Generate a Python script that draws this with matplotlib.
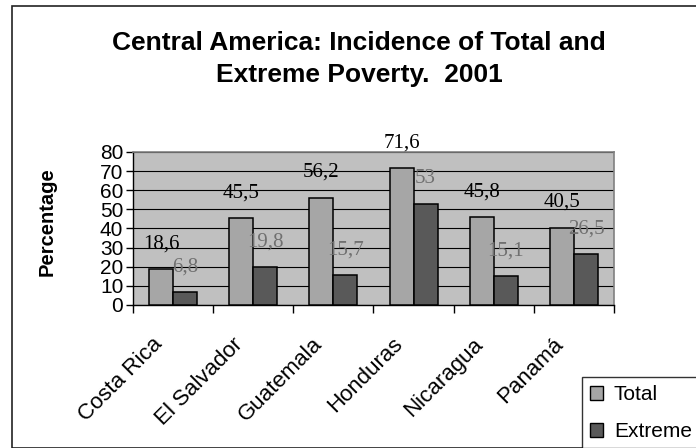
import matplotlib
matplotlib.use("Agg")
import matplotlib.pyplot as plt
import matplotlib.transforms as mtransforms
from matplotlib.patches import Patch, Rectangle

COUNTRIES = ["Costa Rica", "El Salvador", "Guatemala", "Honduras", "Nicaragua", "Panamá"]
TOTAL = [18.6, 45.5, 56.2, 71.6, 45.8, 40.5]
EXTREME = [6.8, 19.8, 15.7, 53, 15.1, 26.5]
TOTAL_LABELS = ["18,6", "45,5", "56,2", "71,6", "45,8", "40,5"]
EXTREME_LABELS = ["6,8", "19,8", "15,7", "53", "15,1", "26,5"]
SERIES = ["Total", "Extreme"]

C_TOTAL = "#a6a6a6"
C_EXTREME = "#595959"
W = 0.3

plt.rcParams["font.family"] = ["Liberation Sans", "DejaVu Sans"]

fig = plt.figure(figsize=(6.96, 4.48), dpi=100)
W_PX, H_PX = 696, 448

# outer chart frame (runs off the right and bottom edges)
fig.patches.append(Rectangle((12 / W_PX, 0), 1.0, 1 - 6 / H_PX, transform=fig.transFigure,
                             fill=False, edgecolor="#222222", linewidth=1.2, clip_on=False))

ax = fig.add_axes([133 / W_PX, 1 - 305 / H_PX, (614 - 133) / W_PX, (305 - 152) / H_PX])
ax.set_facecolor("#c0c0c0")

x = list(range(len(COUNTRIES)))
ax.bar([i - W / 2 for i in x], TOTAL, W, color=C_TOTAL, edgecolor="black", linewidth=1.1, zorder=3)
ax.bar([i + W / 2 for i in x], EXTREME, W, color=C_EXTREME, edgecolor="black", linewidth=1.1, zorder=3)

for i in x:
    ax.annotate(TOTAL_LABELS[i], (i - W / 2, TOTAL[i]), xytext=(0, 25), textcoords="offset pixels",
                ha="center", va="center", fontsize=15, family="Liberation Serif", color="black",
                zorder=5, annotation_clip=False)
    ax.annotate(EXTREME_LABELS[i], (i + W / 2, EXTREME[i]), xytext=(0, 25), textcoords="offset pixels",
                ha="center", va="center", fontsize=15, family="Liberation Serif", color="#707070",
                zorder=5, annotation_clip=False)

ax.set_xlim(-0.5, len(COUNTRIES) - 0.5)
ax.set_ylim(0, 80)
ax.set_yticks(range(0, 81, 10))
ax.yaxis.grid(True, color="black", linewidth=0.8, zorder=1)
ax.tick_params(axis="y", labelsize=15, length=5, width=1, pad=2, direction="out")

ax.set_xticks([i - 0.5 for i in range(len(COUNTRIES) + 1)])
ax.set_xticklabels([])
ax.tick_params(axis="x", which="major", length=6, width=1, direction="out")
ax.set_xticks(x, minor=True)
ax.set_xticklabels(COUNTRIES, minor=True, rotation=45, ha="right", va="center",
                   rotation_mode="anchor", fontsize=16)
ax.tick_params(axis="x", which="minor", length=0, pad=26)
shift = mtransforms.ScaledTranslation(-14 / 100, 0, fig.dpi_scale_trans)
for lab in ax.get_xticklabels(minor=True):
    lab.set_transform(lab.get_transform() + shift)

for side in ("top", "right"):
    ax.spines[side].set_color("#808080")
    ax.spines[side].set_linewidth(1.2)
for side in ("left", "bottom"):
    ax.spines[side].set_color("black")
    ax.spines[side].set_linewidth(1.0)

fig.text(47 / W_PX, 1 - 222 / H_PX, "Percentage", rotation=90, ha="center", va="center",
         fontsize=14.5, fontweight="bold")

fig.text(359 / W_PX, 1 - 59 / H_PX, "Central America: Incidence of Total and\nExtreme Poverty.  2001",
         ha="center", va="center", fontsize=19, fontweight="bold", linespacing=1.42)

handles = [Patch(facecolor=C_TOTAL, edgecolor="black", linewidth=1.0),
           Patch(facecolor=C_EXTREME, edgecolor="black", linewidth=1.0)]
leg = fig.legend(handles, SERIES, loc="upper left", bbox_to_anchor=(582 / W_PX, 1 - 377 / H_PX),
                 bbox_transform=fig.transFigure, fontsize=15, frameon=True, fancybox=False,
                 borderaxespad=0, borderpad=0.4, handlelength=0.63, handleheight=0.63,
                 handletextpad=0.5, labelspacing=0.85)
leg.get_frame().set_edgecolor("black")
leg.get_frame().set_linewidth(1.0)

fig.savefig("out.png", dpi=100)
